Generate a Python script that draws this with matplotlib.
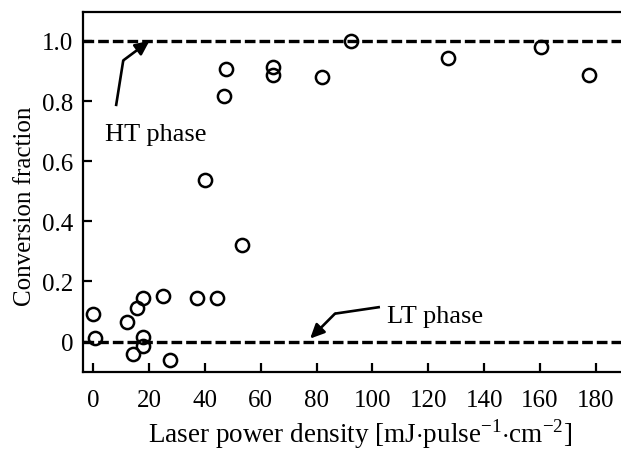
import matplotlib
matplotlib.use("Agg")
import matplotlib.pyplot as plt

plt.rcParams['font.family'] = ['Liberation Serif', 'DejaVu Serif']
plt.rcParams['mathtext.fontset'] = 'custom'
plt.rcParams['mathtext.rm'] = 'Liberation Serif'

# laser power density vs conversion fraction
power = [0, 0.6, 12.1, 14.4, 15.6, 17.8, 17.8, 17.8, 25.2, 27.4, 37.1, 40.2,
         44.5, 46.9, 47.5, 53.4, 64.3, 64.3, 82.1, 92.2, 127.1, 160.2, 177.5]
fraction = [0.093, 0.013, 0.065, -0.042, 0.112, 0.145, 0.015, -0.016, 0.152,
            -0.06, 0.145, 0.536, 0.145, 0.816, 0.907, 0.32, 0.913, 0.887,
            0.881, 1.0, 0.942, 0.981, 0.888]

phase_levels = [1.0, 0.0]
xticks = [0, 20, 40, 60, 80, 100, 120, 140, 160, 180]
yticks = [0, 0.2, 0.4, 0.6, 0.8, 1.0]
ytick_labels = ['0', '0.2', '0.4', '0.6', '0.8', '1.0']


def draw_arrow(ax, start, bend, tip):
    ax.plot([start[0], bend[0]], [start[1], bend[1]], color='black', lw=1.9,
            solid_capstyle='butt')
    ax.annotate('', xy=tip, xytext=bend,
                arrowprops=dict(arrowstyle='-|>,head_length=0.85,head_width=0.4',
                                color='black', lw=1.9, shrinkA=0, shrinkB=0))


fig = plt.figure(figsize=(6.21, 4.52), dpi=100)
ax = fig.add_axes([0.1337, 0.1755, 0.8663, 0.7957])

for lvl in phase_levels:
    ax.axhline(lvl, color='black', lw=2.4, linestyle=(0, (3.2, 1.2)), zorder=1)

ax.plot(power, fraction, linestyle='none', marker='o', markersize=9.5,
        markerfacecolor='none', markeredgecolor='black', markeredgewidth=1.8,
        zorder=3)

# HT / LT annotations
draw_arrow(ax, (8.2, 0.783), (10.8, 0.935), (20.2, 1.0))
ax.text(4.3, 0.671, 'HT phase', fontsize=19, ha='left', va='baseline')
draw_arrow(ax, (102.7, 0.115), (86.6, 0.093), (77.7, 0.01))
ax.text(105.2, 0.066, 'LT phase', fontsize=19, ha='left', va='baseline')

ax.set_xlim(-3.6, 189)
ax.set_ylim(-0.1, 1.096)
ax.set_xticks(xticks)
ax.set_yticks(yticks)
ax.set_yticklabels(ytick_labels)
ax.tick_params(direction='in', length=6.5, width=1.6, labelsize=18)
ax.tick_params(axis='x', pad=12.5)
ax.tick_params(axis='y', pad=7)

for side in ['left', 'bottom', 'top']:
    ax.spines[side].set_linewidth(1.6)
ax.spines['right'].set_visible(False)

ax.set_xlabel('Laser power density [mJ$\\cdot$pulse$^{\\mathrm{-1}}$$\\cdot$cm$^{\\mathrm{-2}}$]',
              fontsize=19.5)
ax.xaxis.set_label_coords(0.515, -0.172)
ax.xaxis.label.set_va('center')
ax.set_ylabel('Conversion fraction', fontsize=18)
ax.yaxis.set_label_coords(-0.108, 0.463)
ax.yaxis.label.set_va('center')

fig.savefig('out.png', dpi=100)
